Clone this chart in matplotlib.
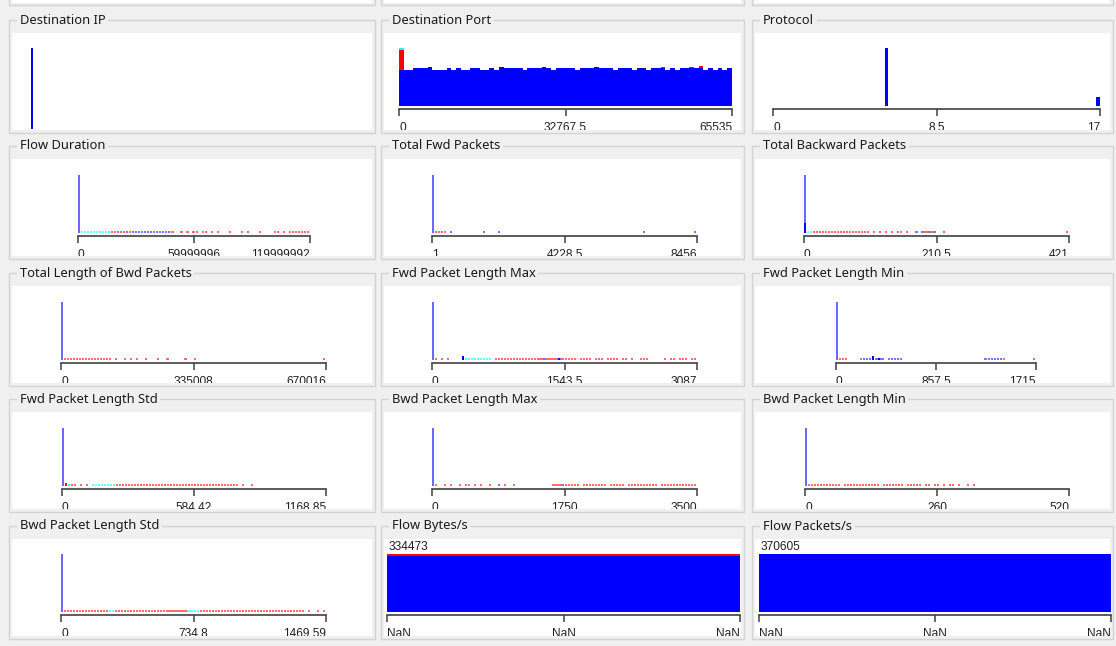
import numpy as np
import matplotlib.pyplot as plt
from matplotlib.patches import Rectangle

W, H = 1116, 646
BG = '#f0f0f0'
EDGE = '#d3d3d3'
AXC = '#404040'
BLUE, RED, CYAN = '#0000ff', '#ff0000', '#00ffff'
LIGHT = {'b': '#7676ff', 'r': '#ff6e6e', 'c': '#6effff'}
TALL = '#6a6aff'

# ===== data =====
titles = ['Destination IP', 'Destination Port', 'Protocol',
          'Flow Duration', 'Total Fwd Packets', 'Total Backward Packets',
          'Total Length of Bwd Packets', 'Fwd Packet Length Max', 'Fwd Packet Length Min',
          'Fwd Packet Length Std', 'Bwd Packet Length Max', 'Bwd Packet Length Min',
          'Bwd Packet Length Std', 'Flow Bytes/s', 'Flow Packets/s']

dest_ip_counts = [81]

# Destination Port: 70 bins, stacked blue / red / cyan
port_range = (0, 65535)
port_ticks = ['0', '32767.5', '65535']
port_blue = [36, 36, 36, 38, 38, 38, 39, 36, 36, 36,
             38, 36, 38, 36, 36, 38, 38, 36, 36, 38,
             36, 39, 38, 38, 38, 38, 36, 38, 38, 38,
             39, 38, 36, 38, 38, 38, 38, 36, 38, 38,
             38, 39, 38, 38, 38, 36, 38, 38, 38, 36,
             38, 38, 36, 38, 38, 38, 36, 38, 36, 38,
             38, 38, 38, 38, 36, 38, 36, 38, 36, 38]
port_red = [(0, 20), (55, 1), (61, 1), (63, 2)]
port_cyan = [(0, 2)]

protocol_range = (0, 17)
protocol_ticks = ['0', '8.5', '17']
protocol_vals = [6, 17]
protocol_counts = [58, 9]

# sparse histograms: one char per bin ('.' empty, r/c/b = tiny red/cyan/blue count)
tall_count = 58
mark_count = 2
fd_range, fd_ticks = (0, 119999992), ['0', '59999996', '119999992']
fd_marks = (".cccccccccc" + "rrbrrbrbbbbbbbbbbbbbr" + ".." + "r.r.rr.rr.r.r" + "..."
            + "r...r.r...r...." + "rr.r." + "rrrrrrr")
tfp_range, tfp_ticks = (1, 8456), ['1', '4228.5', '8456']
tfp_marks = ".rrrr.b" + "." * 10 + "b" + "...." + "b" + "." * 47 + "b" + "." * 16 + "b"
tbp_range, tbp_ticks = (0, 421), ['0', '210.5', '421']
tbp_marks = ".cc" + "r" * 19 + "." + "r.r.r.r.rr.r" + ".." + "b.brbrb" + ".." + "r" + "." * 40 + "r"
tbp_extra = [(0, 'b', 10)]
tlb_range, tlb_ticks = (0, 670016), ['0', '335008', '670016']
tlb_marks = "." + "r" * 15 + "r.r..r.r.r..r...r..r" + "....." + "r..r" + "." * 42 + "r"
fmax_range, fmax_ticks = (0, 3087), ['0', '1543.5', '3087']
fmax_marks = (".r.r.r" + "...." + "b" + "c" * 9 + "." + "r" * 16 + "b" + "rrrr" + "b"
              + "rrrrr.rrrr.rrr.rrrr.rr.r..rrr" + "....." + "r.rr.rrr.rr")
fmax_extra = [(10, 'b', 4), (42, 'b', 2)]
fmin_range, fmin_ticks = (0, 1715), ['0', '857.5', '1715']
fmin_marks = ".rrr...." + "r" + "bbbbbbb" + "." + "bbbbb" + "." * 27 + "bbbbbb" + "r" + "." * 9 + "r"
fmin_extra = [(12, 'b', 4), (14, 'b', 2)]
fstd_range, fstd_ticks = (0, 1168.85), ['0', '584.42', '1168.85']
fstd_marks = ".rcrr.r.r.cccccccc" + "r" * 40 + "r.r..r" + "." * 24
fstd_extra = [(1, 'r', 3), (2, 'c', 2)]
bmax_range, bmax_ticks = (0, 3500), ['0', '1750', '3500']
bmax_marks = (".r..r.r..r.rr.r.r..r..b.r..r" + "." * 12
              + "rrrbrrrrr." + "rrrrrrrr.r" + "rrrr.rrrrr" + "rrrrr.rrrr" + "rrrrrrrr")
bmin_range, bmin_ticks = (0, 520), ['0', '260', '520']
bmin_marks = ".rrrrrrrrr" + "rr.rrrrrrr" + "rrrrr.rrrr" + "rrr.rrrrr." + "rr.rr.r.rr" + ".r..r.r" + "." * 31
bstd_range, bstd_ticks = (0, 1469.59), ['0', '734.8', '1469.59']
bstd_marks = "." + "r" * 15 + "cc" + "r" * 24 + "cccc" + "r" * 34 + "r.r..r.r"

# single-bin (NaN range) attributes
nan_ticks = ['NaN', 'NaN', 'NaN']
bytes_blue, bytes_red = 325473, 9000
pkts_blue, pkts_red = 370605, 0

# ===== layout (pixels, top-left origin) =====
ROW_TOP = [33, 159, 286, 412, 539]      # top of white plot area per row
ROW_BASE = [106, 233, 360, 486, 612]    # histogram baseline per row
COL_BOX = [(9, 375), (381, 744), (752, 1113)]

fig = plt.figure(figsize=(W / 100, H / 100), dpi=100)
fig.patch.set_facecolor(BG)


def rect(x, y, w, h, **kw):
    fig.add_artist(Rectangle((x / W, 1 - (y + h) / H), w / W, h / H,
                             transform=fig.transFigure, **kw))


def box(r, c, title):
    x0, x1 = COL_BOX[c]
    wt = ROW_TOP[r]
    ty = wt - 13
    rect(x0, ty, x1 - x0, wt + 99.5 - ty, facecolor='none', edgecolor=EDGE, lw=1, zorder=-3)
    rect(x0 + 3, wt, x1 - x0 - 6, 97, facecolor='white', edgecolor='none', zorder=-2)
    # grey strip under the white area hides the bottom of the tick labels
    rect(x0 + 1, wt + 97, x1 - x0 - 2, 2, facecolor=BG, edgecolor='none', zorder=3)
    fig.text((x0 + 11) / W, 1 - ty / H, title, ha='left', va='center', fontsize=9.3,
             family='Noto Sans', color='#1a1a1a', zorder=-1,
             bbox=dict(boxstyle='square,pad=0.2', fc=BG, ec='none'))


def hist_ax(r, x0, x1, lo, hi, ymax, ticks, height=58):
    base = ROW_BASE[r]
    ax = fig.add_axes([x0 / W, 1 - base / H, (x1 - x0) / W, height / H])
    ax.set_facecolor('none')
    for s in ['top', 'left', 'right']:
        ax.spines[s].set_visible(False)
    ax.spines['bottom'].set_position(('outward', 2.2))
    ax.spines['bottom'].set_color(AXC)
    ax.spines['bottom'].set_linewidth(1.2)
    ax.set_yticks([])
    ax.set_xlim(lo, hi)
    ax.set_ylim(0, ymax)
    ax.set_xticks([lo, (lo + hi) / 2, hi], ticks)
    ax.tick_params(axis='x', length=5, width=1.1, color=AXC, pad=4.6, labelsize=8.6,
                   labelcolor='#202020')
    for lab, ha in zip(ax.get_xticklabels(), ['left', 'center', 'right']):
        lab.set_ha(ha)
        lab.set_family('Liberation Sans')
    return ax


def sparse(r, x0, x1, rng, ticks, marks, extra=()):
    lo, hi = rng
    ax = hist_ax(r, x0, x1, lo, hi, tall_count, ticks)
    bw = (hi - lo) / len(marks)
    ax.bar(lo, tall_count, width=bw * 0.5, align='edge', color=TALL, lw=0)
    for i, ch in enumerate(marks):
        if ch != '.':
            ax.bar(lo + i * bw, mark_count, width=bw * 0.7, align='edge', color=LIGHT[ch], lw=0)
    for i, ch, h in extra:
        col = {'b': BLUE, 'r': RED, 'c': CYAN}[ch]
        ax.bar(lo + i * bw, h, width=bw * 0.6, align='edge', color=col, lw=0)
    return ax


# top partial row (bottoms of the panels above)
for x0, x1 in COL_BOX:
    rect(x0, -20, x1 - x0, 25, facecolor='none', edgecolor=EDGE, lw=1, zorder=-3)
    rect(x0 + 3, -20, x1 - x0 - 6, 23, facecolor='white', edgecolor='none', zorder=-2)

for k, t in enumerate(titles):
    box(k // 3, k % 3, t)

# Destination IP (nominal, one visible bar)
ax = fig.add_axes([31 / W, 1 - 129 / H, 340 / W, 81 / H])
ax.axis('off')
ax.set_xlim(0, 340)
ax.set_ylim(0, max(dest_ip_counts))
ax.bar(range(len(dest_ip_counts)), dest_ip_counts, width=1.6, align='edge', color=BLUE, lw=0)

# Destination Port
ax = hist_ax(0, 399, 732, port_range[0], port_range[1], 60, port_ticks, height=60)
nb = len(port_blue)
bw = (port_range[1] - port_range[0]) / nb
edges = np.arange(nb) * bw
ax.bar(edges, port_blue, width=bw, align='edge', color=BLUE, lw=0, antialiased=False)
for i, v in port_red:
    ax.bar(edges[i], v, bottom=port_blue[i], width=bw, align='edge', color=RED, lw=0,
           antialiased=False)
for i, v in port_cyan:
    red_i = dict(port_red).get(i, 0)
    ax.bar(edges[i], v, bottom=port_blue[i] + red_i, width=bw, align='edge', color=CYAN,
           lw=0, antialiased=False)

# Protocol
ax = hist_ax(0, 773, 1100, protocol_range[0], protocol_range[1], tall_count, protocol_ticks)
ax.bar(protocol_vals, protocol_counts, width=-0.2, align='edge', color=BLUE, lw=0)

# sparse numeric histograms
sparse(1, 78, 310, fd_range, fd_ticks, fd_marks)
sparse(1, 432, 697, tfp_range, tfp_ticks, tfp_marks)
sparse(1, 804, 1069, tbp_range, tbp_ticks, tbp_marks, tbp_extra)
sparse(2, 61, 326, tlb_range, tlb_ticks, tlb_marks)
sparse(2, 432, 697, fmax_range, fmax_ticks, fmax_marks, fmax_extra)
sparse(2, 836, 1036, fmin_range, fmin_ticks, fmin_marks, fmin_extra)
sparse(3, 62, 326, fstd_range, fstd_ticks, fstd_marks, fstd_extra)
sparse(3, 432, 697, bmax_range, bmax_ticks, bmax_marks)
sparse(3, 805, 1069, bmin_range, bmin_ticks, bmin_marks)
sparse(4, 61, 326, bstd_range, bstd_ticks, bstd_marks)

# Flow Bytes/s and Flow Packets/s: one bin each
for x0, x1, blue, red in [(387, 740, bytes_blue, bytes_red), (759, 1111, pkts_blue, pkts_red)]:
    total = blue + red
    ax = hist_ax(4, x0, x1, 0, 1, total, nan_ticks)
    ax.bar(0, blue, width=1, align='edge', color=BLUE, lw=0)
    ax.bar(0, red, bottom=blue, width=1, align='edge', color=RED, lw=0)
    ax.text(0.004, 1.01, str(total), transform=ax.transAxes, ha='left', va='bottom',
            fontsize=8.6, family='Liberation Sans', color='#202020')

plt.savefig('out.png', dpi=100, facecolor=BG)
